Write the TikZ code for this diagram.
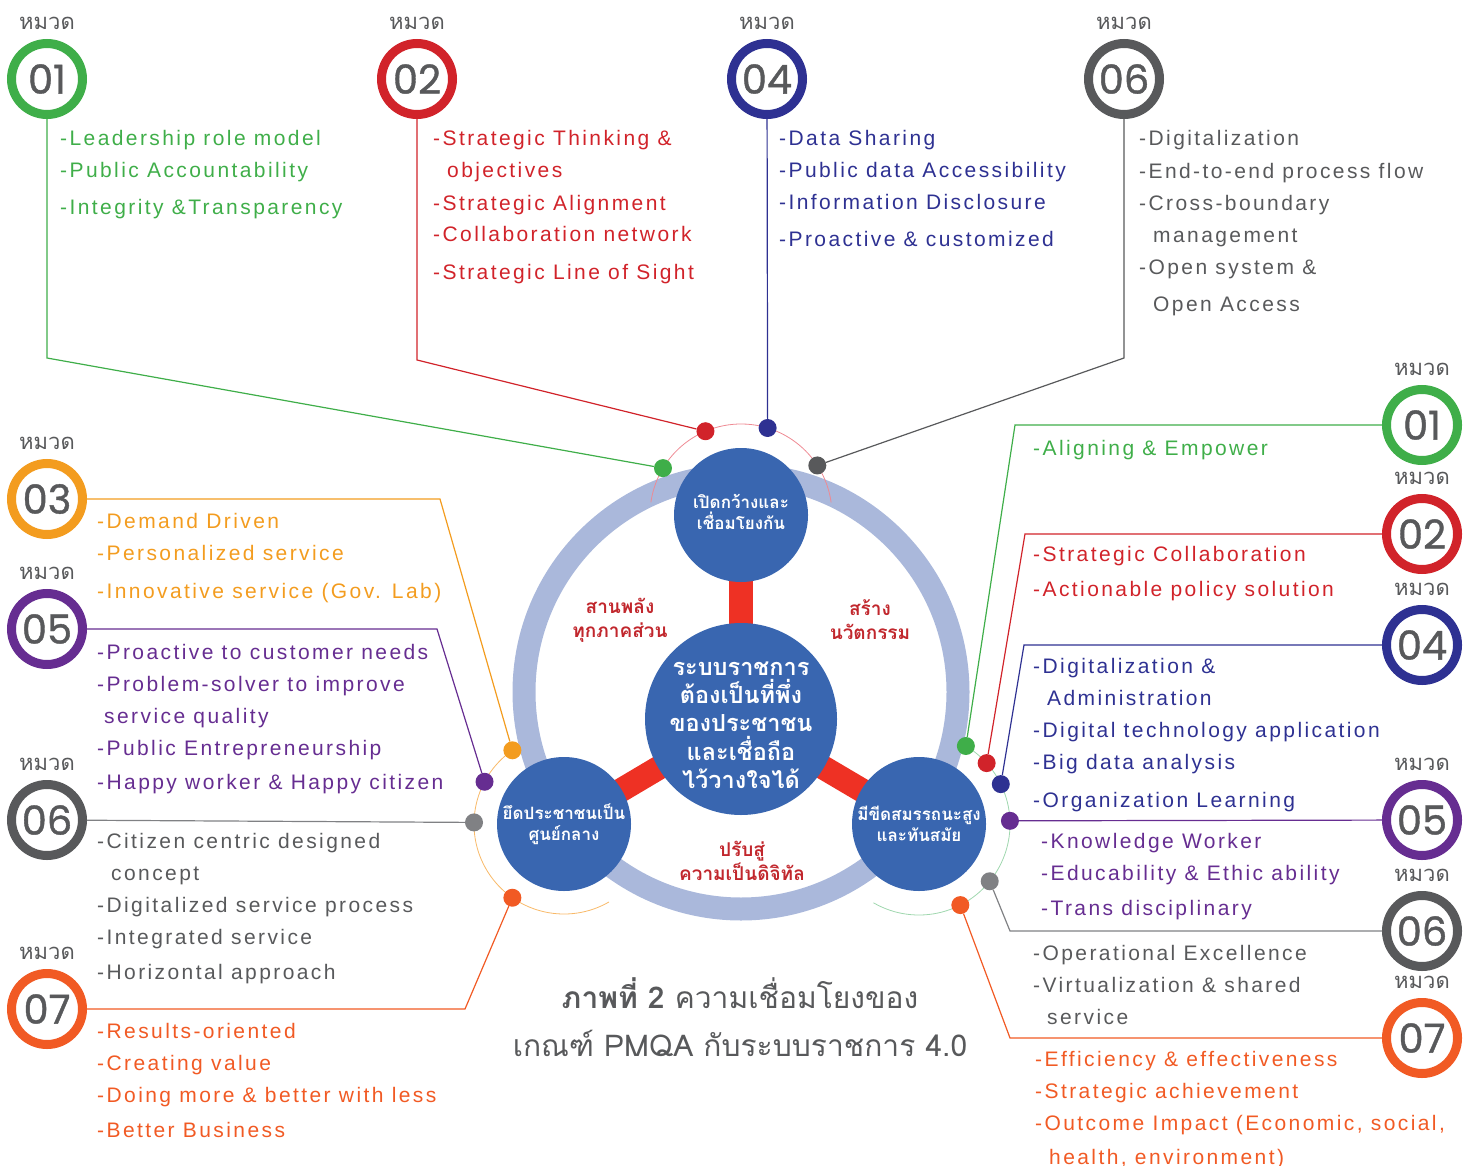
\documentclass[tikz,border=0pt]{standalone}
\usepackage{fontspec}
\setmainfont{Liberation Sans}
\newfontfamily\listfont{Liberation Sans}[LetterSpace=11.5]
\newfontfamily\thaifont{Loma}[Script=Thai]
\newfontfamily\numfont{Poppins}[FakeBold=1]
\usetikzlibrary{calc,backgrounds}

\definecolor{cgreen}{HTML}{3FAE49}
\definecolor{cred}{HTML}{D1232A}
\definecolor{cnavy}{HTML}{2E3192}
\definecolor{cgray}{HTML}{58595B}
\definecolor{clgray}{HTML}{808184}
\definecolor{corange}{HTML}{F39C1F}
\definecolor{cpurple}{HTML}{662D91}
\definecolor{cred2}{HTML}{F15A24}
\definecolor{cblue}{HTML}{3966B0}
\definecolor{cring}{HTML}{AAB8DB}
\definecolor{cspoke}{HTML}{EE3124}
\definecolor{cthai}{HTML}{C1272D}
\definecolor{cpink}{HTML}{EE8A93}
\definecolor{clorange}{HTML}{F8B968}
\definecolor{clgreen}{HTML}{9FD7AE}

\begin{document}
\begin{tikzpicture}[x=1pt,y=-1pt]
	\tikzset{badge/.style = {circle,draw=#1,line width=9pt,fill=white,minimum size=71pt,inner sep=0pt,text=cgray,font=\numfont\fontsize{40}{40}\selectfont}}
	\tikzset{hmuad/.style = {text=cgray,inner sep=0pt,font=\thaifont\fontsize{22}{22}\selectfont}}
	\tikzset{items/.style = {text=#1,anchor=base west,align=left,inner sep=0pt,font=\listfont\fontsize{21}{32}\selectfont}}
	\tikzset{dot/.style = {circle,fill=#1,minimum size=18pt,inner sep=0pt}}
	\tikzset{link/.style = {draw=#1,line width=1.2pt}}
	\tikzset{hub/.style = {circle,fill=cblue,minimum size=134pt,inner sep=0pt,text=white,align=center,font=\thaifont\bfseries\fontsize{17}{21}\selectfont}}
	\tikzset{theme/.style = {text=cthai,align=center,inner sep=0pt,font=\thaifont\bfseries\fontsize{19}{24}\selectfont}}
	\useasboundingbox (0,0) rectangle (1471,1166);

	% hubs
	\node[hub,minimum size=192pt,inner sep=-12pt,font=\thaifont\bfseries\fontsize{23.5}{28.3}\selectfont] (core) at (741,719) {\rule{0pt}{26pt}ระบบราชการ\\ต้องเป็นที่พึ่ง\\ของประชาชน\\และเชื่อถือ\\ไว้วางใจได้};
	\node[hub] (open) at (741,515) {เปิดกว้างและ\\เชื่อมโยงกัน\rule[-6pt]{0pt}{0pt}};
	\node[hub] (people) at (564,824) {ยึดประชาชนเป็น\\ศูนย์กลาง};
	\node[hub] (modern) at (919,824) {มีขีดสมรรถนะสูง\\และทันสมัย};
	\begin{scope}[on background layer]
		\draw[cring,line width=23pt] (741,692) circle[radius=217pt];
		\foreach \h in {open,people,modern}
			\draw[cspoke,line width=24pt] (core.center) -- (\h.center);
	\end{scope}

	\node[theme] (unite) at (620,620) {สานพลัง\\ทุกภาคส่วน};
	\node[theme] (innov) at (870,620) {สร้าง\\นวัตกรรม};
	\node[theme] (digit) at (742,861) {ปรับสู่\\ความเป็นดิจิทัล};

	% thin arcs round the hubs
	\draw[cpink,line width=0.8pt] ($(open)+(8:91pt)$) arc[start angle=8,end angle=172,radius=91pt];
	\draw[clorange,line width=0.8pt] ($(people)+(125:90pt)$) arc[start angle=125,end angle=300,radius=90pt];
	\draw[clgreen,line width=0.8pt] ($(modern)+(59:91pt)$) arc[start angle=59,end angle=-120,radius=91pt];

	% dots
	\node[dot=cgreen] (tg) at ($(open)+(149:91pt)$) {};
	\node[dot=cred] (tr) at ($(open)+(113:91pt)$) {};
	\node[dot=cnavy] (tn) at ($(open)+(73:91pt)$) {};
	\node[dot=cgray] (tk) at ($(open)+(33:91pt)$) {};
	\node[dot=corange] (lo) at ($(people)+(125:90pt)$) {};
	\node[dot=cpurple] (lp) at ($(people)+(152:90pt)$) {};
	\node[dot=clgray] (lk) at ($(people)+(179:90pt)$) {};
	\node[dot=cred2] (lr) at ($(people)+(235:90pt)$) {};
	\node[dot=cgreen] (rg) at ($(modern)+(59:91pt)$) {};
	\node[dot=cred] (rr) at ($(modern)+(42:91pt)$) {};
	\node[dot=cnavy] (rn) at ($(modern)+(26:91pt)$) {};
	\node[dot=cpurple] (rp) at ($(modern)+(2:91pt)$) {};
	\node[dot=clgray] (rk) at ($(modern)+(-39:91pt)$) {};
	\node[dot=cred2] (ro) at ($(modern)+(-63:91pt)$) {};

	% badges, top row
	\node[badge=cgreen] (t1) at (47,79) {01};
	\node[badge=cred] (t2) at (417,79) {02};
	\node[badge=cnavy] (t4) at (767,79) {04};
	\node[badge=cgray] (t6) at (1124,79) {06};
	% badges, right column
	\node[badge=cgreen] (r1) at (1422,425) {01};
	\node[badge=cred] (r2) at (1422,534) {02};
	\node[badge=cnavy] (r4) at (1422,645) {04};
	\node[badge=cpurple] (r5) at (1422,820) {05};
	\node[badge=cgray] (r6) at (1422,931) {06};
	\node[badge=cred2] (r7) at (1422,1038) {07};
	% badges, left column
	\node[badge=corange] (l3) at (47,499) {03};
	\node[badge=cpurple] (l5) at (47,629) {05};
	\node[badge=cgray] (l6) at (47,820) {06};
	\node[badge=cred2] (l7) at (47,1009) {07};

	\foreach \b in {t1,t2,t4,t6,r1,r2,r4,r5,r6,r7,l3,l5,l6,l7}
		\node[hmuad] (h\b) at ($(\b)+(0,-56)$) {หมวด};

	% connectors
	\coordinate (kt1) at (47,358);
	\coordinate (kt2) at (417,360);
	\coordinate (kt6) at (1124,358);
	\coordinate (kr1) at (1015,425);
	\coordinate (kr2) at (1025,534);
	\coordinate (kr4) at (1024,645);
	\coordinate (kr6) at (1010,931);
	\coordinate (kr7) at (1010,1038);
	\coordinate (kl3) at (440,499);
	\coordinate (kl5) at (437,629);
	\coordinate (kl7) at (465,1009);
	\draw[link=cgreen] (t1) -- (kt1) -- (tg);
	\draw[link=cred] (t2) -- (kt2) -- (tr);
	\draw[link=cnavy] (t4) -- (tn);
	\draw[link=cgray] (t6) -- (kt6) -- (tk);
	\draw[link=cgreen] (r1) -- (kr1) -- (rg);
	\draw[link=cred] (r2) -- (kr2) -- (rr);
	\draw[link=cnavy] (r4) -- (kr4) -- (rn);
	\draw[link=cpurple] (r5) -- (rp);
	\draw[link=clgray] (r6) -- (kr6) -- (rk);
	\draw[link=cred2] (r7) -- (kr7) -- (ro);
	\draw[link=corange] (l3) -- (kl3) -- (lo);
	\draw[link=cpurple] (l5) -- (kl5) -- (lp);
	\draw[link=clgray] (l6) -- (lk);
	\draw[link=cred2] (l7) -- (kl7) -- (lr);

	% item lists (placed by the baseline of their last line)
	\node[items=cgreen] (it1) at (60,215) {-Leadership role model\\-Public Accountability\\[5pt]-Integrity \&Transparency};
	\node[items=cred] (it2) at (433,279) {-Strategic Thinking \&\\\hspace*{14pt}objectives\\-Strategic Alignment\\-Collaboration network\\[5pt]-Strategic Line of Sight};
	\node[items=cnavy] (it4) at (779,247) {-Data Sharing\\-Public data Accessibility\\-Information Disclosure\\[5pt]-Proactive \& customized};
	\node[items=cgray] (it6) at (1139,311) {-Digitalization\\-End-to-end process flow\\-Cross-boundary\\\hspace*{14pt}management\\-Open system \&\\[5pt]\hspace*{14pt}Open Access};
	\node[items=cgreen] (ir1) at (1033,455) {-Aligning \& Empower};
	\node[items=cred] (ir2) at (1033,596) {-Strategic Collaboration\\[3pt]-Actionable policy solution};
	\node[items=cnavy] (ir4) at (1033,807) {-Digitalization \&\\\hspace*{14pt}Administration\\-Digital technology application\\-Big data analysis\\[6pt]-Organization Learning};
	\node[items=cpurple] (ir5) at (1041,915) {-Knowledge Worker\\-Educability \& Ethic ability\\[3pt]-Trans disciplinary};
	\node[items=cgray] (ir6) at (1033,1024) {-Operational Excellence\\-Virtualization \& shared\\\hspace*{14pt}service};
	\node[items=cred2] (ir7) at (1035,1164) {-Efficiency \& effectiveness\\-Strategic achievement\\-Outcome Impact (Economic, social,\\[2pt]\hspace*{14pt}health, environment)};
	\node[items=corange] (il3) at (97,598) {-Demand Driven\\-Personalized service\\[6pt]-Innovative service (Gov. Lab)};
	\node[items=cpurple] (il5) at (97,789) {-Proactive to customer needs\\-Problem-solver to improve\\\hspace*{7pt}service quality\\-Public Entrepreneurship\\[2pt]-Happy worker \& Happy citizen};
	\node[items=cgray] (il6) at (97,979) {-Citizen centric designed\\\hspace*{14pt}concept\\-Digitalized service process\\-Integrated service\\[3pt]-Horizontal approach};
	\node[items=cred2] (il7) at (97,1137) {-Results-oriented\\-Creating value\\-Doing more \& better with less\\[3pt]-Better Business};

	% caption
	\node[text=cgray,align=center,font=\thaifont\fontsize{30}{48}\selectfont] (caption) at (740,1017) {{\bfseries ภาพที่ 2} ความเชื่อมโยงของ\\เกณฑ์ PMQA กับระบบราชการ 4.0};
\end{tikzpicture}
\end{document}
